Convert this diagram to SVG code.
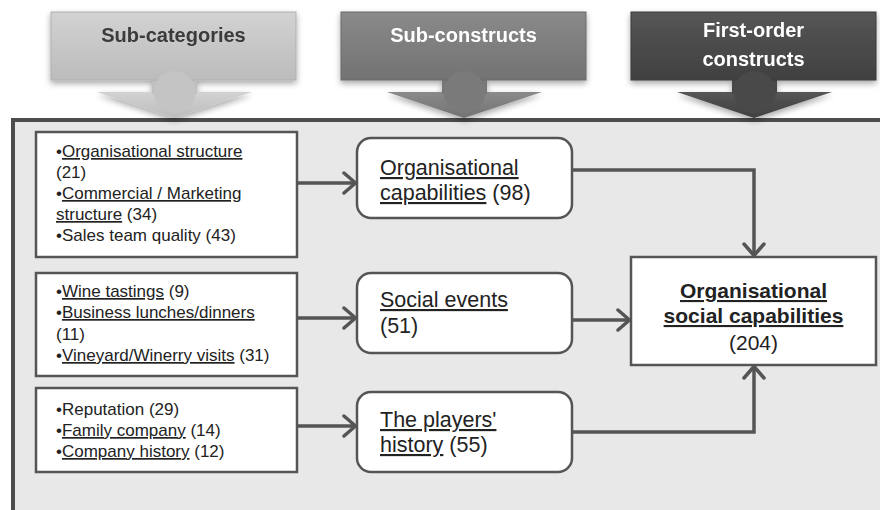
<svg xmlns="http://www.w3.org/2000/svg" width="880" height="510" viewBox="0 0 880 510">
<style>
.hdr{font-family:"Liberation Sans",Arial,sans-serif;font-weight:bold;font-size:20px;text-anchor:middle}
.box{fill:#fff;stroke:#555;stroke-width:2.5}
.t1{font-family:"Liberation Sans",Arial,sans-serif;font-size:17px;fill:#222}
.t2{font-family:"Liberation Sans",Arial,sans-serif;font-size:21.5px;fill:#222}
.t3{font-family:"Liberation Sans",Arial,sans-serif;font-size:21px;fill:#222;text-anchor:middle}
.u{text-decoration:underline}
.con{fill:none;stroke:#555;stroke-width:3.5;marker-end:url(#arr)}
</style>
<defs>
<marker id="arr" viewBox="-16 -12 18 24" markerWidth="18" markerHeight="24" refX="0" refY="0" orient="auto" markerUnits="userSpaceOnUse">
<path d="M-13,-10 L-1.5,0 L-13,10" fill="none" stroke="#555" stroke-width="3.5" stroke-linecap="round" stroke-linejoin="round"/>
</marker>
<linearGradient id="g1" x1="0" y1="0" x2="0" y2="1"><stop offset="0" stop-color="#d2d2d2"/><stop offset="1" stop-color="#bcbcbc"/></linearGradient>
<linearGradient id="g2" x1="0" y1="0" x2="0" y2="1"><stop offset="0" stop-color="#8a8a8a"/><stop offset="1" stop-color="#727272"/></linearGradient>
<linearGradient id="g3" x1="0" y1="0" x2="0" y2="1"><stop offset="0" stop-color="#565656"/><stop offset="1" stop-color="#404040"/></linearGradient>
<filter id="sh" x="-10%" y="-10%" width="120%" height="130%"><feGaussianBlur in="SourceAlpha" stdDeviation="3"/><feOffset dx="0" dy="3"/><feComponentTransfer><feFuncA type="linear" slope="0.35"/></feComponentTransfer><feMerge><feMergeNode/><feMergeNode in="SourceGraphic"/></feMerge></filter>
</defs>
<rect width="880" height="510" fill="#fff"/>
<rect id="frame" x="13" y="120" width="900" height="420" fill="#e8e8e8" stroke="#4d4d4d" stroke-width="4"/>

<g id="hdr-subcategories" filter="url(#sh)">
<path d="M97,92 H252 L174,118 Z" fill="url(#g1)"/>
<rect x="152" y="78" width="45" height="16" fill="#c0c0c0"/>
<rect x="51" y="12" width="245" height="68" fill="url(#g1)" stroke="#b0b0b0" stroke-width="1"/>
<circle cx="174.5" cy="92" r="21" fill="#c4c4c4"/>
<text class="hdr" x="173.5" y="42" fill="#3a3a3a">Sub-categories</text>
</g>
<g id="hdr-subconstructs" filter="url(#sh)">
<path d="M387,92 H542 L464,118 Z" fill="url(#g2)"/>
<rect x="442" y="78" width="45" height="16" fill="#777"/>
<rect x="341" y="12" width="245" height="68" fill="url(#g2)" stroke="#6a6a6a" stroke-width="1"/>
<circle cx="464.5" cy="92" r="21" fill="#7a7a7a"/>
<text class="hdr" x="463.5" y="42" fill="#fff">Sub-constructs</text>
</g>
<g id="hdr-firstorder" filter="url(#sh)">
<path d="M677,92 H832 L754,118 Z" fill="url(#g3)"/>
<rect x="732" y="78" width="45" height="16" fill="#474747"/>
<rect x="631" y="12" width="245" height="68" fill="url(#g3)" stroke="#3a3a3a" stroke-width="1"/>
<circle cx="754.5" cy="92" r="21" fill="#4a4a4a"/>
<text class="hdr" x="753.5" y="37" fill="#fff">First-order</text>
<text class="hdr" x="753.5" y="66" fill="#fff">constructs</text>
</g>

<g id="connectors">
<path class="con" d="M297,183 H357"/>
<path class="con" d="M572,170 H754 V257"/>
<path class="con" d="M297,318 H357"/>
<path class="con" d="M572,320 H631"/>
<path class="con" d="M297,426 H357"/>
<path class="con" d="M572,432 H754 V365"/>
</g>

<g id="sub1">
<rect class="box" x="36" y="132" width="261" height="125"/>
<text class="t1" x="56" y="157">•<tspan class="u">Organisational structure</tspan></text>
<text class="t1" x="56" y="178">(21)</text>
<text class="t1" x="56" y="199">•<tspan class="u">Commercial / Marketing</tspan></text>
<text class="t1" x="56" y="220"><tspan class="u">structure</tspan> (34)</text>
<text class="t1" x="56" y="241">•Sales team quality (43)</text>
</g>
<g id="sub2">
<rect class="box" x="36" y="273" width="261" height="103"/>
<text class="t1" x="56" y="297">•<tspan class="u">Wine tastings</tspan> (9)</text>
<text class="t1" x="56" y="318">•<tspan class="u">Business lunches/dinners</tspan></text>
<text class="t1" x="56" y="340">(11)</text>
<text class="t1" x="56" y="361">•<tspan class="u">Vineyard/Winerry visits</tspan> (31)</text>
</g>
<g id="sub3">
<rect class="box" x="36" y="388" width="261" height="84"/>
<text class="t1" x="56" y="415">•Reputation (29)</text>
<text class="t1" x="56" y="436">•<tspan class="u">Family company</tspan> (14)</text>
<text class="t1" x="56" y="457">•<tspan class="u">Company history</tspan> (12)</text>
</g>

<g id="orgcap">
<rect class="box" x="357" y="138" width="215" height="80" rx="14"/>
<text class="t2" x="380" y="175"><tspan class="u">Organisational</tspan></text>
<text class="t2" x="380" y="200"><tspan class="u">capabilities</tspan> (98)</text>
</g>
<g id="social">
<rect class="box" x="357" y="273" width="215" height="80" rx="14"/>
<text class="t2" x="380" y="307"><tspan class="u">Social events</tspan></text>
<text class="t2" x="380" y="333">(51)</text>
</g>
<g id="history">
<rect class="box" x="357" y="392" width="215" height="80" rx="14"/>
<text class="t2" x="380" y="427"><tspan class="u">The players'</tspan></text>
<text class="t2" x="380" y="452"><tspan class="u">history</tspan> (55)</text>
</g>

<g id="osc">
<rect class="box" x="631" y="257" width="245" height="108"/>
<text class="t3" x="753.5" y="298" font-weight="bold"><tspan class="u">Organisational</tspan></text>
<text class="t3" x="753.5" y="323" font-weight="bold"><tspan class="u">social capabilities</tspan></text>
<text class="t3" x="753.5" y="350">(204)</text>
</g>
</svg>
